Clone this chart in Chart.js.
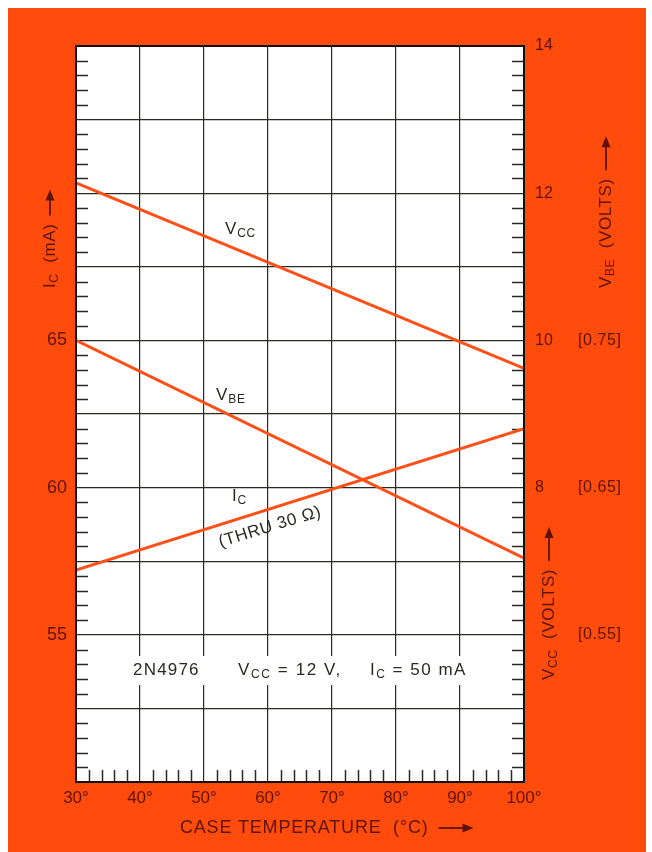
<!DOCTYPE html>
<html lang="en">
<head>
    <meta charset="UTF-8">
    <title>2N4976 temperature drift</title>
    <script src="https://cdn.jsdelivr.net/npm/chart.js"></script>
    <style>
        body {
            margin: 0;
            padding: 0;
            background: #fff;
        }
        #wrap {
            width: 652px;
            height: 852px;
        }
    </style>
</head>
<body>
<div id="wrap"><canvas id="driftChart" width="652" height="852"></canvas></div>
<script>
    // readings, end points at 30 and 100 degrees
    const temps = [30, 100];
    const vccVolts = [12.14, 9.62];
    const vbeVolts = [0.75, 0.602];
    const icMilliamps = [57.2, 62.0];

    // labelled ticks
    const xTicks = [30, 40, 50, 60, 70, 80, 90, 100];
    const icTicks = [55, 60, 65];
    const vccTicks = [8, 10, 12, 14];
    const vbeTicks = [0.75, 0.65, 0.55];

    const ORANGE = '#ff4b0c';
    const LINE = '#ff5018';
    const INK = '#5e1409';
    const DARK = '#2a2a24';
    const FONT = '"Liberation Sans", Arial, sans-serif';

    function font(size) { return size + 'px ' + FONT; }

    // text made of [string, isSubscript] pieces
    function drawRich(ctx, parts, x, y, size, color, spacing) {
        ctx.fillStyle = color;
        ctx.textAlign = 'left';
        ctx.textBaseline = 'middle';
        ctx.letterSpacing = (spacing || 0) + 'px';
        let cx = x;
        for (const [t, sub] of parts) {
            ctx.font = font(sub ? Math.round(size * 0.72) : size);
            ctx.fillText(t, cx, sub ? y + size * 0.3 : y);
            cx += ctx.measureText(t).width;
        }
        ctx.letterSpacing = '0px';
        return cx;
    }
    function arrow(ctx, x1, y1, x2, y2, color) {
        const a = Math.atan2(y2 - y1, x2 - x1);
        ctx.strokeStyle = color;
        ctx.fillStyle = color;
        ctx.lineWidth = 1.8;
        ctx.beginPath();
        ctx.moveTo(x1, y1);
        ctx.lineTo(x2 - 6 * Math.cos(a), y2 - 6 * Math.sin(a));
        ctx.stroke();
        ctx.beginPath();
        ctx.moveTo(x2, y2);
        ctx.lineTo(x2 - 11 * Math.cos(a) + 4.5 * Math.sin(a), y2 - 11 * Math.sin(a) - 4.5 * Math.cos(a));
        ctx.lineTo(x2 - 11 * Math.cos(a) - 4.5 * Math.sin(a), y2 - 11 * Math.sin(a) + 4.5 * Math.cos(a));
        ctx.closePath();
        ctx.fill();
    }
    // vertical title reading bottom to top, followed by an up arrow
    function sideTitle(ctx, parts, x, yStart, arrowLen, color) {
        ctx.save();
        ctx.translate(x, yStart);
        ctx.rotate(-Math.PI / 2);
        const end = drawRich(ctx, parts, 0, 0, 17, color, 0.6);
        arrow(ctx, end + 8, 0, end + 8 + arrowLen, 0, color);
        ctx.restore();
    }

    const decor = {
        id: 'decor',
        beforeDraw(chart) {
            const ctx = chart.ctx;
            const a = chart.chartArea;
            ctx.save();
            ctx.fillStyle = '#fff';
            ctx.fillRect(0, 0, chart.width, chart.height);
            ctx.fillStyle = ORANGE;
            ctx.fillRect(8, 8, 638, 844);
            ctx.fillStyle = '#fff';
            ctx.fillRect(a.left, a.top, a.right - a.left, a.bottom - a.top);
            ctx.restore();
        },
        beforeDatasetsDraw(chart) {
            const ctx = chart.ctx;
            const a = chart.chartArea;
            const sx = chart.scales.x, sy = chart.scales.y, sy2 = chart.scales.y2;
            ctx.save();
            // clear strip behind the part-number note
            ctx.fillStyle = '#fff';
            ctx.fillRect(100, 656, 400, 29);
            // minor ticks, pointing into the plot
            ctx.strokeStyle = DARK;
            ctx.lineWidth = 1.5;
            ctx.beginPath();
            for (let v = 50.5; v < 75; v += 0.5) {
                if (Math.abs(v / 2.5 - Math.round(v / 2.5)) < 1e-6) continue;
                const y = Math.round(sy.getPixelForValue(v)) + 0.5;
                ctx.moveTo(a.left, y); ctx.lineTo(a.left + 12, y);
            }
            for (let v = 4.2; v < 14; v += 0.2) {
                if (Math.abs(v - Math.round(v)) < 1e-6) continue;
                const y = Math.round(sy2.getPixelForValue(v)) + 0.5;
                ctx.moveTo(a.right, y); ctx.lineTo(a.right - 12, y);
            }
            for (let t = 32; t < 100; t += 2) {
                if (t % 10 === 0) continue;
                const x = Math.round(sx.getPixelForValue(t)) + 0.5;
                ctx.moveTo(x, a.bottom); ctx.lineTo(x, a.bottom - 12);
            }
            ctx.stroke();
            ctx.restore();
        },
        afterDatasetsDraw(chart) {
            const ctx = chart.ctx;
            const a = chart.chartArea;
            ctx.save();
            ctx.strokeStyle = '#111';
            ctx.lineWidth = 2;
            ctx.strokeRect(a.left, a.top, a.right - a.left, a.bottom - a.top);
            ctx.restore();
        },
        afterDraw(chart) {
            const ctx = chart.ctx;
            const vbe = chart.scales.yVbe;
            ctx.save();

            // bracketed V_BE scale
            vbeTicks.forEach(v => {
                drawRich(ctx, [['[' + v.toFixed(2) + ']', false]], 578, vbe.getPixelForValue(v), 16, INK, 0.6);
            });

            // axis titles
            sideTitle(ctx, [['I', false], ['C', true], ['  (mA)', false]], 50, 288, 26, INK);
            sideTitle(ctx, [['V', false], ['BE', true], ['  (VOLTS)', false]], 606, 288, 34, INK);
            sideTitle(ctx, [['V', false], ['CC', true], ['  (VOLTS)', false]], 549, 680, 34, INK);

            const xe = drawRich(ctx, [['CASE TEMPERATURE  (°C)', false]], 180, 828, 18, INK, 0.8);
            arrow(ctx, xe + 10, 828, xe + 45, 828, INK);

            // curve names
            drawRich(ctx, [['V', false], ['CC', true]], 225, 229, 17, DARK, 0.8);
            drawRich(ctx, [['V', false], ['BE', true]], 216, 395, 17, DARK, 0.8);
            drawRich(ctx, [['I', false], ['C', true]], 232, 496, 17, DARK, 0.8);
            ctx.save();
            ctx.translate(270, 527);
            ctx.rotate(-17 * Math.PI / 180);
            ctx.font = font(17);
            ctx.letterSpacing = '0.6px';
            ctx.fillStyle = DARK;
            ctx.textAlign = 'center';
            ctx.textBaseline = 'middle';
            ctx.fillText('(THRU 30 Ω)', 0, 0);
            ctx.restore();

            // test conditions
            drawRich(ctx, [['2N4976', false]], 133, 670, 17, DARK, 1.2);
            drawRich(ctx, [['V', false], ['CC', true], [' = 12 V,', false]], 238, 670, 17, DARK, 1.6);
            drawRich(ctx, [['I', false], ['C', true], [' = 50 mA', false]], 370, 670, 17, DARK, 1.5);

            ctx.restore();
        }
    };

    const ctx = document.getElementById('driftChart').getContext('2d');
    new Chart(ctx, {
        type: 'line',
        data: {
            datasets: [
                {
                    label: 'VCC',
                    data: temps.map((t, i) => ({ x: t, y: vccVolts[i] })),
                    yAxisID: 'y2'
                },
                {
                    label: 'VBE',
                    data: temps.map((t, i) => ({ x: t, y: vbeVolts[i] })),
                    yAxisID: 'yVbe'
                },
                {
                    label: 'IC',
                    data: temps.map((t, i) => ({ x: t, y: icMilliamps[i] })),
                    yAxisID: 'y'
                }
            ]
        },
        options: {
            responsive: false,
            animation: false,
            events: [],
            layout: { padding: { top: 46, left: 0, right: 0, bottom: 0 } },
            elements: {
                line: { borderColor: LINE, borderWidth: 3, tension: 0 },
                point: { radius: 0 }
            },
            plugins: {
                legend: { display: false },
                tooltip: { enabled: false }
            },
            scales: {
                x: {
                    type: 'linear',
                    min: 30,
                    max: 100,
                    afterFit(s) { s.height = 70; },
                    afterBuildTicks(s) { s.ticks = xTicks.map(v => ({ value: v })); },
                    grid: { color: DARK, lineWidth: 1.2, drawTicks: false },
                    border: { display: false },
                    ticks: {
                        padding: 6,
                        color: INK,
                        font: { family: FONT, size: 17 },
                        callback: v => v + '°'
                    }
                },
                y: {
                    position: 'left',
                    min: 50,
                    max: 75,
                    afterFit(s) { s.width = 76; },
                    grid: { color: DARK, lineWidth: 1.2, drawTicks: false },
                    border: { display: false },
                    ticks: {
                        stepSize: 2.5,
                        padding: 9,
                        color: INK,
                        font: { family: FONT, size: 18 },
                        callback: v => icTicks.some(t => Math.abs(t - v) < 1e-6) ? String(v) : ''
                    }
                },
                y2: {
                    position: 'right',
                    min: 4,
                    max: 14,
                    afterFit(s) { s.width = 128; },
                    grid: { display: false, drawTicks: false },
                    border: { display: false },
                    ticks: {
                        stepSize: 1,
                        padding: 11,
                        color: INK,
                        font: { family: FONT, size: 16 },
                        callback: v => vccTicks.includes(v) ? String(v) : ''
                    }
                },
                yVbe: {
                    display: false,
                    min: 0.45,
                    max: 0.95
                }
            }
        },
        plugins: [decor]
    });
</script>
</body>
</html>
